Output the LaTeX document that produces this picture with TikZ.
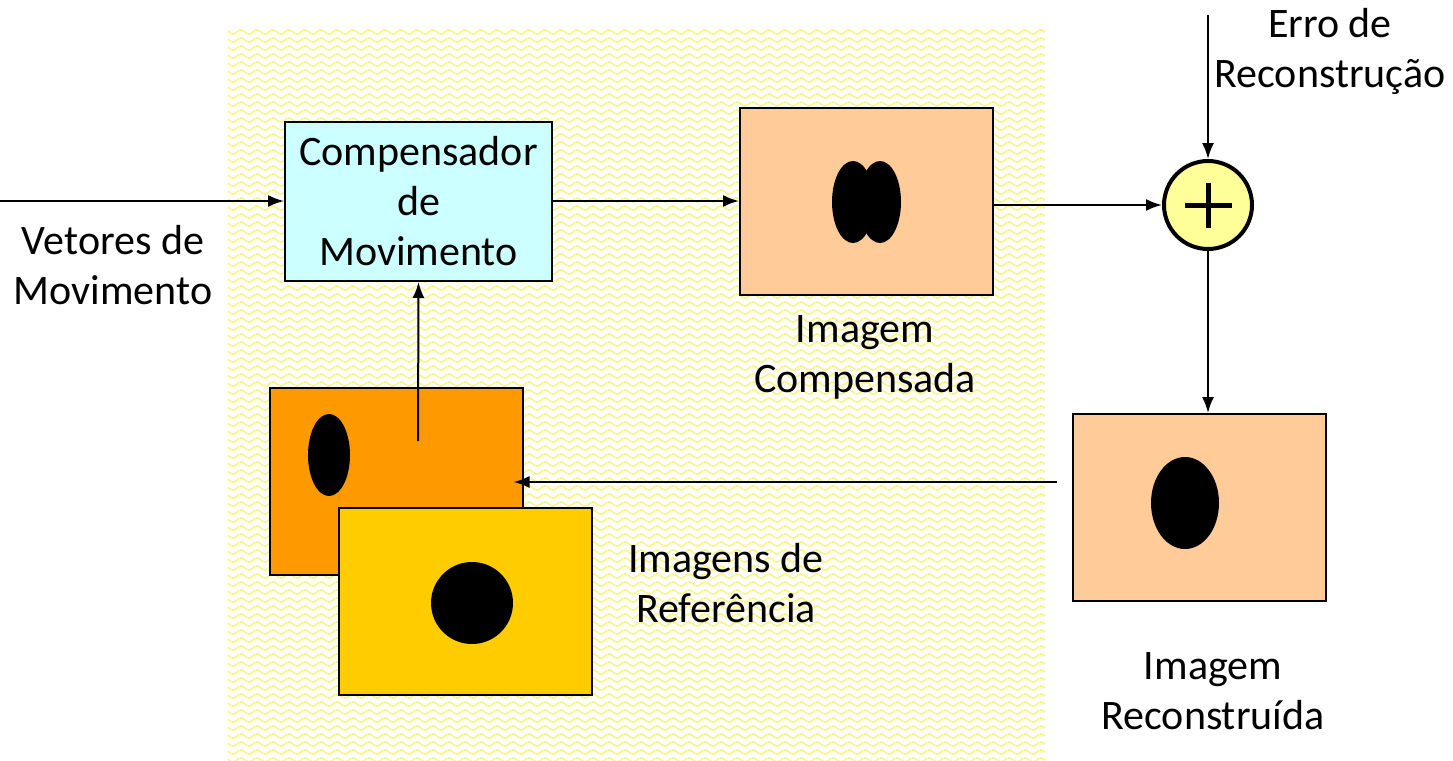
\documentclass[tikz,border=0pt]{standalone}
\usepackage{fontspec}
\setmainfont{Carlito}
\usetikzlibrary{arrows.meta,decorations.pathmorphing}
\definecolor{boxcyan}{HTML}{CCFFFF}
\definecolor{imgpeach}{HTML}{FFCC99}
\definecolor{refdark}{HTML}{FF9900}
\definecolor{refgold}{HTML}{FFCC00}
\definecolor{sumyellow}{HTML}{FFFF99}
\definecolor{wavey}{HTML}{FFF48A}

\begin{document}
\begin{tikzpicture}[x=1pt,y=-1pt,font=\fontsize{42}{50}\selectfont,
  arr/.style={line width=2pt,-{Latex[length=16pt,width=12pt]}},
  frame/.style={draw,line width=2pt,minimum width=253pt,minimum height=187pt,inner sep=0pt},
  label/.style={align=center}]

\useasboundingbox (0,0) rectangle (1453,760);

% wavy background
\begin{scope}
  \clip (228,28) rectangle (1045,760);
  \foreach \r in {32,40,...,760}
    \draw[wavey,line width=1.8pt,decorate,decoration={snake,segment length=16pt,amplitude=2pt}] (220,\r) -- (1060,\r);
\end{scope}

% blocks
\node[draw,line width=2pt,fill=boxcyan,minimum width=267pt,minimum height=159pt,align=center,inner sep=0pt] (comp) at (418.5,201.5) {Compensador\\de\\Movimento};
\node[frame,fill=imgpeach] (imgc) at (866.5,201.5) {};
\fill (853,202) ellipse [x radius=21pt,y radius=41pt];
\fill (880,202) ellipse [x radius=21pt,y radius=41pt];

\node[circle,draw,line width=4pt,fill=sumyellow,minimum size=88pt,inner sep=0pt] (soma) at (1208,205) {};
\draw[line width=5pt] (1185,205) -- (1232,205) (1208,183) -- (1208,228);

\node[frame,fill=imgpeach] (recon) at (1199,507.5) {};
\fill (1185,503) ellipse [x radius=34pt,y radius=46pt];

\node[frame,fill=refdark] (refa) at (396,481.5) {};
\fill (329,455) ellipse [x radius=21pt,y radius=41pt];
\node[frame,fill=refgold] (refb) at (465,601) {};
\fill (472,603) circle [radius=41pt];

% labels
\node[label] (vet) at (113,265) {Vetores de\\Movimento};
\node[label] (lblc) at (865,357) {Imagem\\Compensada};
\node[label] (erro) at (1330,51) {Erro de\\Reconstrução};
\node[label] (lblref) at (726,583) {Imagens de\\Referência};
\node[label] (lblrec) at (1213,691) {Imagem\\Reconstruída};

% connectors
\coordinate (in) at (0,201);
\coordinate (errtop) at (1208,15);
\coordinate (fb) at (1057,482);
\coordinate (refup) at (418,441);
\draw[arr] (in) -- (in -| comp.west);
\draw[arr] (comp.east |- in) -- (imgc.west |- in);
\draw[arr] (imgc.east |- soma) -- (soma.west);
\draw[arr] (errtop) -- (soma.north);
\draw[arr] (soma.south) -- (recon.north -| soma.south);
\draw[arr] (fb) -- ([xshift=-10pt]fb -| refa.east);
\draw[arr] (refup) -- (comp.south);

\end{tikzpicture}
\end{document}
